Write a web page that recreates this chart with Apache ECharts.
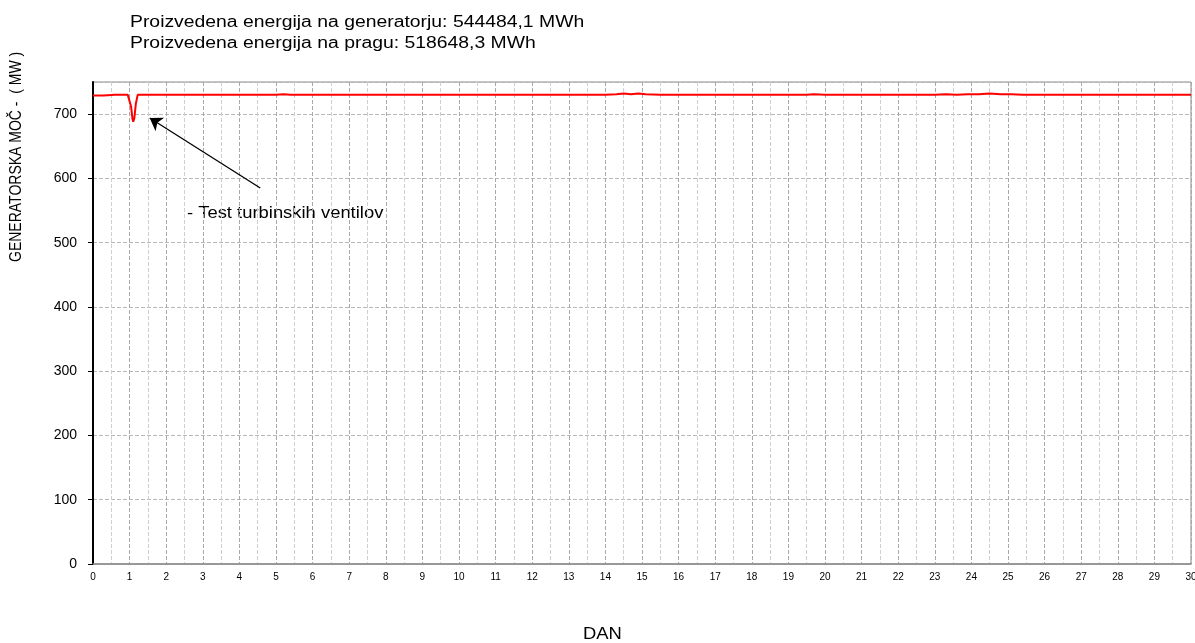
<!DOCTYPE html>
<html><head><meta charset="utf-8">
<script src="https://cdn.jsdelivr.net/npm/echarts@6/dist/echarts.min.js"></script>
<style>html,body{margin:0;padding:0;background:#fff}#c{width:1195px;height:643px}</style>
</head><body><div id="c"></div>
<script>
const titleLines = ["Proizvedena energija na generatorju: 544484,1 MWh", "Proizvedena energija na pragu: 518648,3 MWh"];
const yAxisTitle = "GENERATORSKA MOČ -  ( MW )";
const xAxisTitle = "DAN";
const annotationText = "- Test turbinskih ventilov";
const days = [0, 0.3, 0.6, 0.95, 1.0, 1.04, 1.08, 1.1, 1.13, 1.17, 1.22, 1.5, 2, 2.5, 3, 3.5, 4, 4.5, 5, 5.2, 5.4, 6, 6.5, 7, 7.5, 8, 8.5, 9, 9.5, 10, 10.5, 11, 11.5, 12, 12.5, 13, 13.5, 14, 14.3, 14.5, 14.7, 14.9, 15.1, 15.5, 16, 16.5, 17, 17.5, 18, 18.5, 19, 19.5, 19.7, 20, 20.5, 21, 21.5, 22, 22.5, 23, 23.3, 23.6, 23.9, 24.2, 24.5, 24.8, 25.1, 25.4, 25.7, 26, 26.5, 27, 27.5, 28, 28.5, 29, 29.5, 30];
const power = [729, 729, 730, 730, 728, 712, 692, 688, 694, 716, 730, 730, 730, 730, 730, 730, 730, 730, 730, 731, 730, 730, 730, 730, 730, 730, 730, 730, 730, 730, 730, 730, 730, 730, 730, 730, 730, 730, 731, 732, 731, 732, 731, 730, 730, 730, 730, 730, 730, 730, 730, 730, 731, 730, 730, 730, 730, 730, 730, 730, 731, 730, 731, 731, 732, 731, 731, 730, 730, 730, 730, 730, 730, 730, 730, 730, 730, 730];
const arrowFrom = [4.57, 585];
const arrowTo = [1.55, 694];
const xTicks = {min: 0, max: 30, interval: 1};
const yTicks = {min: 0, max: 750, interval: 100};

const chart = echarts.init(document.getElementById('c'));
const font = 'Arial, "Liberation Sans", sans-serif';
chart.setOption({
  animation: false,
  grid: {left: 93, right: 4, top: 82, bottom: 79, show: true, borderColor: '#8a8a8a', borderWidth: 1, outerBoundsMode: 'none', containLabel: false},
  graphic: [
    {type: 'text', left: 130, top: 15, scaleX: 1.21, style: {text: titleLines[0], font: '16px ' + font, fill: '#000'}},
    {type: 'text', left: 130, top: 36, scaleX: 1.21, style: {text: titleLines[1], font: '16px ' + font, fill: '#000'}},
    {type: 'text', x: 9, y: 262, rotation: Math.PI / 2, scaleY: 1.15, style: {text: yAxisTitle, font: '14px ' + font, fill: '#000', textAlign: 'left', textVerticalAlign: 'top'}},
    {type: 'text', left: 187, top: 206, scaleX: 1.15, style: {text: annotationText, font: '16px ' + font, fill: '#000'}},
    {type: 'text', left: 583, top: 627, scaleX: 1.15, style: {text: xAxisTitle, font: '16px ' + font, fill: '#000'}}
  ],
  xAxis: {
    type: 'value', min: xTicks.min, max: xTicks.max, interval: xTicks.interval,
    axisLine: {lineStyle: {color: '#8a8a8a', width: 1.5}},
    axisTick: {show: false},
    axisLabel: {fontFamily: font, fontSize: 10, color: '#000', margin: 8},
    splitLine: {show: true, lineStyle: {color: '#a8a8a8', type: 'dashed', width: 1}},
    minorTick: {show: false, splitNumber: 2},
    minorSplitLine: {show: true, lineStyle: {color: '#cfcfcf', type: 'dashed', width: 1}}
  },
  yAxis: {
    type: 'value', min: yTicks.min, max: yTicks.max, interval: yTicks.interval,
    axisLine: {show: true, lineStyle: {color: '#000', width: 2}},
    axisTick: {show: true, length: 5, lineStyle: {color: '#000'}},
    axisLabel: {fontFamily: font, fontSize: 14, color: '#000', margin: 16, showMaxLabel: false},
    splitLine: {show: true, lineStyle: {color: '#b8b8b8', type: 'dashed', width: 1}}
  },
  series: [{
    type: 'line', showSymbol: false, symbol: 'none',
    data: days.map((d, i) => [d, power[i]]),
    lineStyle: {color: '#ff0000', width: 2},
    markLine: {
      silent: true, symbol: ['none', 'arrow'], symbolSize: 12,
      label: {show: false},
      lineStyle: {color: '#000', width: 1.3, type: 'solid'},
      data: [[{coord: arrowFrom}, {coord: arrowTo}]]
    }
  }]
});
</script></body></html>
